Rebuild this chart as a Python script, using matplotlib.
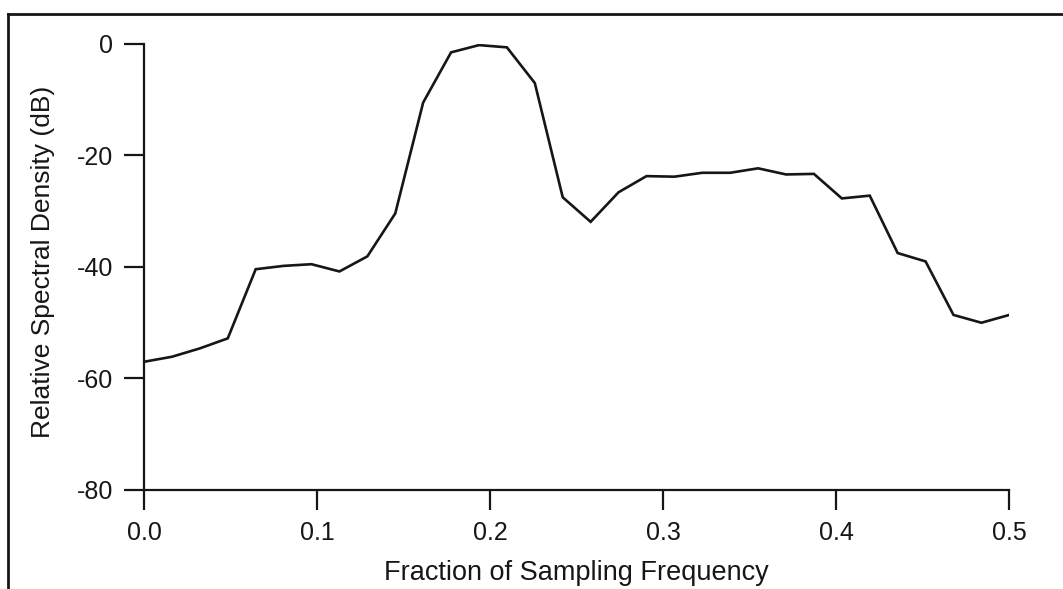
import matplotlib
matplotlib.use("Agg")
import matplotlib.pyplot as plt
from matplotlib.lines import Line2D

# frequency index k, frequency = k/62
k_index = list(range(32))
freq = [k / 62 for k in k_index]
density_db = [-57.0, -56.1, -54.6, -52.8, -40.4, -39.8, -39.5, -40.8,
              -38.1, -30.4, -10.5, -1.5, -0.2, -0.6, -7.0, -27.5,
              -31.9, -26.6, -23.7, -23.8, -23.1, -23.1, -22.3, -23.4,
              -23.3, -27.7, -27.2, -37.5, -39.0, -48.6, -50.0, -48.6]

x_ticks = [0.0, 0.1, 0.2, 0.3, 0.4, 0.5]
x_ticklabels = ["0.0", "0.1", "0.2", "0.3", "0.4", "0.5"]
y_ticks = [0, -20, -40, -60, -80]
y_ticklabels = ["0", "-20", "-40", "-60", "-80"]

plt.rcParams['font.family'] = ['Liberation Sans', 'DejaVu Sans']
plt.rcParams['axes.unicode_minus'] = False

ink = "#161616"

fig = plt.figure(figsize=(10.63, 5.89), dpi=100)
ax = fig.add_axes([0.1355, 0.1681, 0.8140, 0.7572])

ax.plot(freq, density_db, color=ink, linewidth=1.9, solid_joinstyle='miter')

ax.set_xlim(0, 0.5)
ax.set_ylim(-80, 0)
ax.set_xticks(x_ticks)
ax.set_xticklabels(x_ticklabels)
ax.set_yticks(y_ticks)
ax.set_yticklabels(y_ticklabels)

ax.spines['top'].set_visible(False)
ax.spines['right'].set_visible(False)
for s in ['left', 'bottom']:
    ax.spines[s].set_linewidth(1.6)
    ax.spines[s].set_color(ink)

ax.tick_params(axis='both', direction='out', length=14.4, width=1.6,
               color=ink, labelcolor=ink, labelsize=18, pad=8)

ax.set_xlabel("Fraction of Sampling Frequency", fontsize=19.5, color=ink)
ax.xaxis.set_label_coords(0.5, -0.158)
ax.set_ylabel("Relative Spectral Density (dB)", fontsize=19, color=ink)
ax.yaxis.set_label_coords(-0.103, 0.511)

# page frame, only left and top edges show
fig.add_artist(Line2D([0.0075, 0.0075], [0.0, 0.977], transform=fig.transFigure,
                      color=ink, linewidth=2.0))
fig.add_artist(Line2D([0.0075, 1.0], [0.977, 0.977], transform=fig.transFigure,
                      color=ink, linewidth=2.0))

fig.savefig("out.png", dpi=100, facecolor="white")
